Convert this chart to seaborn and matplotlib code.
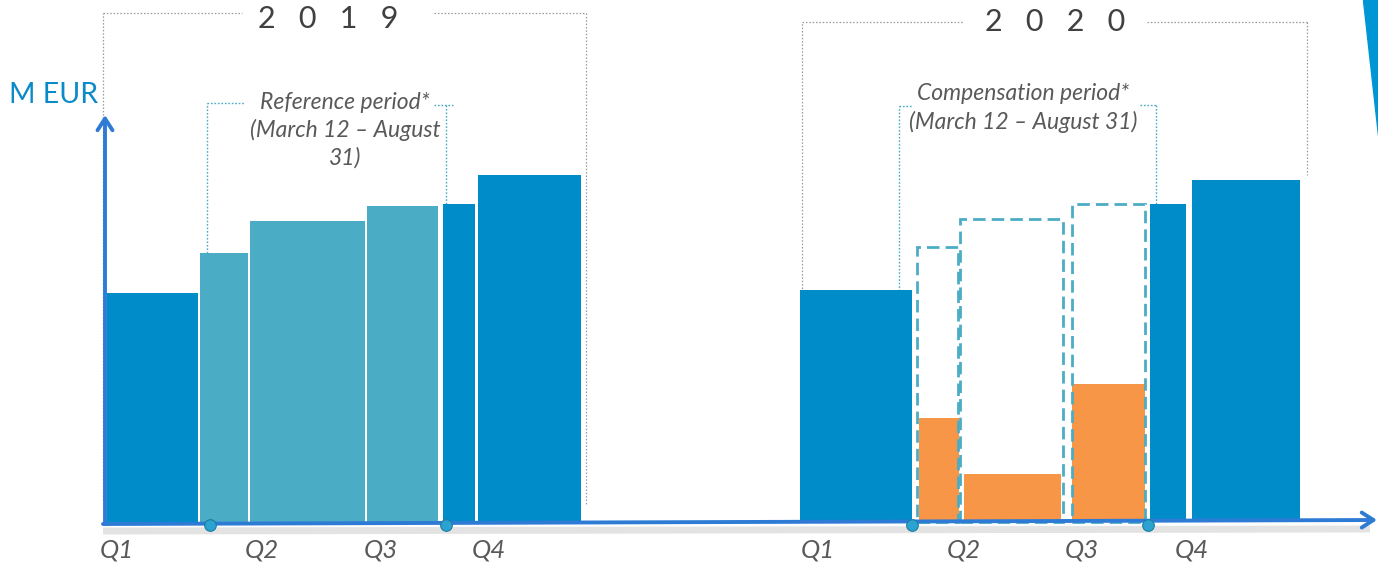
import matplotlib
matplotlib.use("Agg")
import matplotlib.pyplot as plt
from matplotlib.patches import Polygon
import seaborn as sns

# ---------------- data ----------------
# schematic time segments (start, end) on the chart's time axis and their values (M EUR)
seg_start_2019 = [107, 200, 250, 367, 443, 478]
seg_end_2019 = [198, 248, 365, 438, 475, 581]
values_2019 = [229, 269, 301, 316, 318, 347]
kind_2019 = ["base", "ref", "ref", "ref", "base", "base"]

seg_start_2020 = [800, 919, 964, 1072, 1150, 1192]
seg_end_2020 = [912, 959, 1061, 1145, 1186, 1300]
values_2020 = [232, 104, 48, 138, 318, 342]
kind_2020 = ["base", "comp", "comp", "comp", "base", "base"]

# reference (2019) levels shown as dashed outlines over the compensation period
ref_start_2020 = [917, 960, 1072]
ref_end_2020 = [958, 1063, 1145]
ref_values_2020 = [275, 303, 318]

# period markers (March 12 and August 31)
period_marks = [210, 446, 912, 1148]

quarter_labels = ["Q1", "Q2", "Q3", "Q4"]
quarter_pos_2019 = [117, 262, 381, 489]
quarter_pos_2020 = [818, 964, 1082, 1192]

years = ["2   0   1   9", "2   0   2   0"]
ref_text = "Reference period*\n(March 12 – August\n31)"
comp_text = "Compensation period*\n(March 12 – August 31)"
unit_label = "M EUR"

# ---------------- style ----------------
sns.set_theme(style="white")
plt.rcParams["font.family"] = ["Lato", "DejaVu Sans"]

DARK = "#008BC9"
LIGHT = "#4BACC6"
ORANGE = "#F79646"
AXIS = "#2E7BD6"
GRAYTXT = "#595959"
colors = {"base": DARK, "ref": LIGHT, "comp": ORANGE}

W, H = 1378, 565
BASE = 522  # pixel row of zero


def Y(r):
    return BASE - r


fig = plt.figure(figsize=(W / 100, H / 100), dpi=100)
ax = fig.add_axes([0, 0, 1, 1])
ax.set_xlim(0, W)
ax.set_ylim(BASE - H, BASE)
ax.axis("off")

# bars
for starts, ends, vals, kinds in [(seg_start_2019, seg_end_2019, values_2019, kind_2019),
                                  (seg_start_2020, seg_end_2020, values_2020, kind_2020)]:
    widths = [e - s for s, e in zip(starts, ends)]
    ax.bar(starts, vals, width=widths, align="edge", bottom=0,
           color=[colors[k] for k in kinds], edgecolor="none", zorder=3)

# dashed reference outlines
ax.bar(ref_start_2020, ref_values_2020,
       width=[e - s for s, e in zip(ref_start_2020, ref_end_2020)],
       align="edge", fill=False, edgecolor=LIGHT, linewidth=2.0,
       linestyle=(0, (4.5, 2.2)), zorder=4)

# year brackets (gray dotted)
gray_ls = dict(color="#9a9a9a", lw=0.9, ls=(0, (1.2, 1.5)), zorder=2)
ax.plot([103, 103], [Y(500), Y(13)], **gray_ls)
ax.plot([103, 242], [Y(13), Y(13)], **gray_ls)
ax.plot([434, 586], [Y(13), Y(13)], **gray_ls)
ax.plot([586, 586], [Y(13), Y(505)], **gray_ls)

ax.plot([802, 802], [Y(410), Y(22)], **gray_ls)
ax.plot([802, 964], [Y(22), Y(22)], **gray_ls)
ax.plot([1147, 1307], [Y(22), Y(22)], **gray_ls)
ax.plot([1307, 1307], [Y(22), Y(175)], **gray_ls)

# period brackets (light blue dotted)
blue_ls = dict(color=LIGHT, lw=1.0, ls=(0, (1.2, 1.3)), zorder=2)
ax.plot([207, 207], [Y(253), Y(103)], **blue_ls)
ax.plot([207, 245], [Y(103), Y(103)], **blue_ls)
ax.plot([434, 453], [Y(105), Y(105)], **blue_ls)
ax.plot([446, 446], [Y(105), Y(204)], **blue_ls)

ax.plot([899, 899], [Y(520), Y(106)], **blue_ls)
ax.plot([899, 912], [Y(106), Y(106)], **blue_ls)
ax.plot([1140, 1157], [Y(105), Y(105)], **blue_ls)
ax.plot([1156, 1156], [Y(105), Y(204)], **blue_ls)

# year labels
ax.text(328, Y(19), years[0], ha="center", va="center", fontsize=22, color="#404040")
ax.text(1055, Y(22), years[1], ha="center", va="center", fontsize=22, color="#404040")

# period texts
ax.text(345, Y(130), ref_text, ha="center", va="center", fontsize=16.5, style="italic",
        color=GRAYTXT, linespacing=1.33)
ax.text(1023, Y(108), comp_text, ha="center", va="center", fontsize=16.5, style="italic",
        color=GRAYTXT, linespacing=1.33)

# unit label
ax.text(9, Y(95), unit_label, ha="left", va="center", fontsize=20.5, color="#0A8AC8")

# axis shadow
ax.plot([103, 1370], [Y(531), Y(529)], color="#c8c8c8", lw=5, alpha=0.5,
        solid_capstyle="butt", zorder=4)
# x axis
ax.annotate("", xy=(1377, Y(520)), xytext=(103, Y(524)),
            arrowprops=dict(arrowstyle="->,head_length=0.7,head_width=0.45",
                            color=AXIS, lw=2.8, shrinkA=0, shrinkB=0), zorder=5)
# y axis
ax.annotate("", xy=(105, Y(115)), xytext=(105, Y(524)),
            arrowprops=dict(arrowstyle="->,head_length=0.7,head_width=0.45",
                            color=AXIS, lw=2.8, shrinkA=0, shrinkB=0), zorder=5)

# period markers
ax.scatter(period_marks, [Y(525)] * len(period_marks), s=70, color="#2BA2CF",
           edgecolor="#1A7EA3", linewidth=0.8, zorder=6)

# quarter labels
for xs in (quarter_pos_2019, quarter_pos_2020):
    for q, x in zip(quarter_labels, xs):
        ax.text(x, Y(550), q, ha="center", va="center", fontsize=18.5, style="italic",
                color=GRAYTXT)

# decorative corner stripe
ax.add_patch(Polygon([(1363, Y(0)), (1378, Y(0)), (1378, Y(135))], closed=True,
                     color="#0096D6", zorder=1))

fig.savefig("out.png", dpi=100)
